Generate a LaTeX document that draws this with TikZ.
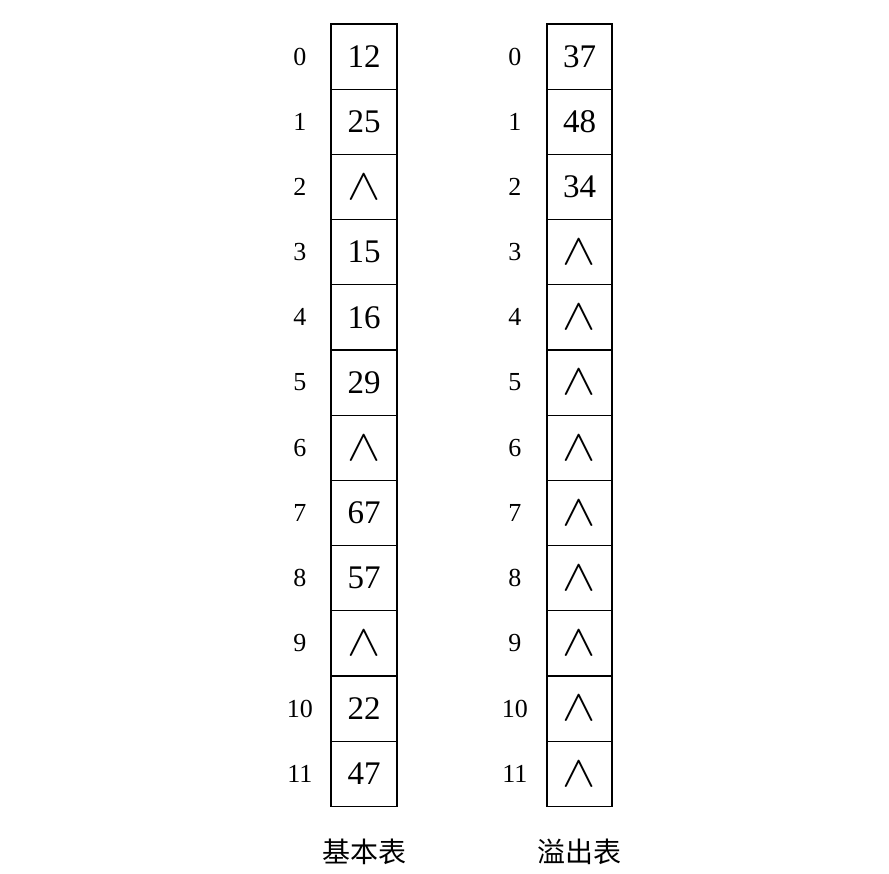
\documentclass[tikz,border=0pt]{standalone}
\usepackage{fontspec}
\setmainfont{Liberation Serif}
\newfontfamily\cjk{Noto Sans CJK SC}
\usepackage{tikz}
\usetikzlibrary{positioning}
\tikzstyle{cell} = [rectangle, minimum width=66pt, minimum height=65.2pt, inner sep=0pt, outer sep=0pt, text centered, draw=black, line width=1.2pt, font=\fontsize{33}{33}\selectfont]
\tikzstyle{idx} = [minimum width=30pt, inner sep=0pt, text centered, font=\fontsize{26}{26}\selectfont]
\tikzstyle{caption} = [inner sep=0pt, font=\cjk\fontsize{28}{30}\selectfont]
\newcommand{\nil}{\scalebox{2}[1.77]{$\wedge$}}

\begin{document}
\begin{tikzpicture}[x=1pt, y=1pt, node distance=0pt]
\useasboundingbox (0,0) rectangle (889,-873);

% basic table
\node (b0) [cell] at (364,-56.6) {12};
\node (b1) [cell, below=of b0] {25};
\node (b2) [cell, below=of b1] {\nil};
\node (b3) [cell, below=of b2] {15};
\node (b4) [cell, below=of b3] {16};
\node (b5) [cell, below=of b4] {29};
\node (b6) [cell, below=of b5] {\nil};
\node (b7) [cell, below=of b6] {67};
\node (b8) [cell, below=of b7] {57};
\node (b9) [cell, below=of b8] {\nil};
\node (b10) [cell, below=of b9] {22};
\node (b11) [cell, below=of b10] {47};

% overflow table
\node (o0) [cell, minimum width=65pt] at (579.5,-56.6) {37};
\node (o1) [cell, minimum width=65pt, below=of o0] {48};
\node (o2) [cell, minimum width=65pt, below=of o1] {34};
\node (o3) [cell, minimum width=65pt, below=of o2] {\nil};
\node (o4) [cell, minimum width=65pt, below=of o3] {\nil};
\node (o5) [cell, minimum width=65pt, below=of o4] {\nil};
\node (o6) [cell, minimum width=65pt, below=of o5] {\nil};
\node (o7) [cell, minimum width=65pt, below=of o6] {\nil};
\node (o8) [cell, minimum width=65pt, below=of o7] {\nil};
\node (o9) [cell, minimum width=65pt, below=of o8] {\nil};
\node (o10) [cell, minimum width=65pt, below=of o9] {\nil};
\node (o11) [cell, minimum width=65pt, below=of o10] {\nil};

% indices
\node (bi0) [idx, left=16pt of b0] {0};
\node (bi1) [idx, left=16pt of b1] {1};
\node (bi2) [idx, left=16pt of b2] {2};
\node (bi3) [idx, left=16pt of b3] {3};
\node (bi4) [idx, left=16pt of b4] {4};
\node (bi5) [idx, left=16pt of b5] {5};
\node (bi6) [idx, left=16pt of b6] {6};
\node (bi7) [idx, left=16pt of b7] {7};
\node (bi8) [idx, left=16pt of b8] {8};
\node (bi9) [idx, left=16pt of b9] {9};
\node (bi10) [idx, left=16pt of b10] {10};
\node (bi11) [idx, left=16pt of b11] {11};

\node (oi0) [idx, left=17pt of o0] {0};
\node (oi1) [idx, left=17pt of o1] {1};
\node (oi2) [idx, left=17pt of o2] {2};
\node (oi3) [idx, left=17pt of o3] {3};
\node (oi4) [idx, left=17pt of o4] {4};
\node (oi5) [idx, left=17pt of o5] {5};
\node (oi6) [idx, left=17pt of o6] {6};
\node (oi7) [idx, left=17pt of o7] {7};
\node (oi8) [idx, left=17pt of o8] {8};
\node (oi9) [idx, left=17pt of o9] {9};
\node (oi10) [idx, left=17pt of o10] {10};
\node (oi11) [idx, left=17pt of o11] {11};

% captions
\node (basic) [caption, below=32pt of b11] {基本表};
\node (overflow) [caption, below=32pt of o11] {溢出表};

\end{tikzpicture}
\end{document}
